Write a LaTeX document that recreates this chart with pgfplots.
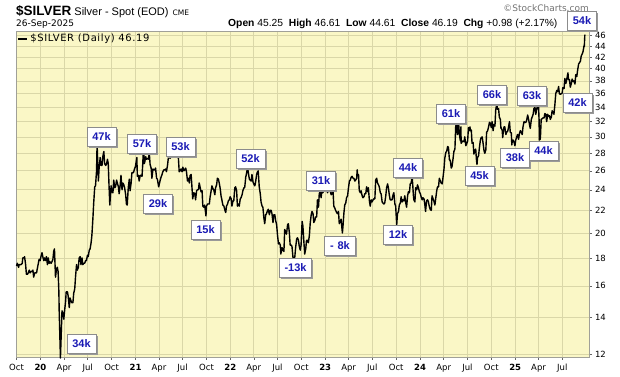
\documentclass[border=0pt]{standalone}
\usepackage{fontspec}
\setmainfont{DejaVu Sans}
\newfontfamily\arial{Liberation Sans}
\newfontfamily\legfont[LetterSpace=6]{DejaVu Sans}
\usepackage{pgfplots}
\pgfplotsset{compat=1.18}
\usepgfplotslibrary{dateplot}
\usetikzlibrary{shadows}
\definecolor{bg}{HTML}{FAF7C6}
\definecolor{gridc}{HTML}{DAD7A8}
\definecolor{lblue}{HTML}{1A1AB4}
\definecolor{framec}{HTML}{A0A098}
\tikzset{box/.style={draw=black!45, fill=white, line width=0.6pt, font=\arial\bfseries\fontsize{11}{12}\selectfont, text=lblue, minimum width=29pt, minimum height=19pt, inner sep=0pt, drop shadow={shadow xshift=1.6pt, shadow yshift=-1.6pt, fill=black!40, opacity=1}}}
\begin{document}
\begin{tikzpicture}
\useasboundingbox (0pt,0pt) rectangle (620pt,376pt);
\node[anchor=base west, inner sep=0pt] at (16pt,361pt) {{\arial\bfseries\fontsize{13.5}{14}\selectfont \$SILVER}\hspace{3pt}{\arial\fontsize{11}{12}\selectfont Silver - Spot (EOD)}\hspace{4pt}{\fontsize{7.5}{8}\selectfont CME}};
\node[anchor=base west, inner sep=0pt] at (16pt,350pt) {\fontsize{9}{10}\selectfont 26-Sep-2025};
\node[anchor=base west, inner sep=0pt] at (228pt,350pt) {\arial\fontsize{10.3}{12}\selectfont \textbf{Open} 45.25\ \ \textbf{High} 46.61\ \ \textbf{Low} 44.61\ \ \textbf{Close} 46.19\ \ \textbf{Chg} +0.98 (+2.17\%)};
\node[anchor=base east, inner sep=0pt, text=black!55] at (589pt,364pt) {\fontsize{9}{10}\selectfont \textcopyright StockCharts.com};
\begin{axis}[
  at={(16pt,19pt)}, anchor=south west,
  width=573pt, height=326pt, scale only axis,
  date coordinates in=x, date ZERO=2019-09-29,
  xmin=2019-09-29, xmax=2025-10-12,
  ymode=log, ymin=11.85, ymax=46.9,
  xtick={2019-10-01,2020-01-01,2020-04-01,2020-07-01,2020-10-01,2021-01-01,2021-04-01,2021-07-01,2021-10-01,2022-01-01,2022-04-01,2022-07-01,2022-10-01,2023-01-01,2023-04-01,2023-07-01,2023-10-01,2024-01-01,2024-04-01,2024-07-01,2024-10-01,2025-01-01,2025-04-01,2025-07-01},
  xticklabels={Oct,\textbf{20},Apr,Jul,Oct,\textbf{21},Apr,Jul,Oct,\textbf{22},Apr,Jul,Oct,\textbf{23},Apr,Jul,Oct,\textbf{24},Apr,Jul,Oct,\textbf{25},Apr,Jul},
  ytick={12,14,16,18,20,22,24,26,28,30,32,34,36,38,40,42,44,46},
  yticklabels={12,14,16,18,20,22,24,26,28,30,32,34,36,38,40,42,44,46},
  yticklabel pos=right, ytick pos=right, xtick pos=bottom,
  grid=major, major grid style={gridc, line width=0.6pt},
  axis background/.style={fill=bg},
  axis line style={framec, line width=0.6pt},
  tick style={black!60, line width=0.5pt},
  tick align=outside, major tick length=3pt,
  tick label style={font=\fontsize{8.5}{9}\selectfont},
  xticklabel style={yshift=-0.5pt},
  yticklabel style={xshift=-0.5pt},
  clip=false,
  legend style={at={(0.002,0.997)}, anchor=north west, draw=none, fill=none, inner sep=0pt, font=\legfont\fontsize{10}{11}\selectfont},
  legend image code/.code={\draw[line width=2pt] (0pt,0pt) -- (9pt,0pt);},
]
\addplot[black, line width=1.4pt, line join=round] coordinates {
(2019-10-01,17.4) (2019-10-04,17.6) (2019-10-09,17.3) (2019-10-11,17.5) (2019-10-16,17.5) (2019-10-18,17.5) (2019-10-23,17.6) (2019-10-25,18.0) (2019-10-30,18.0) (2019-11-01,18.1) (2019-11-05,17.5) (2019-11-08,16.8) (2019-11-12,16.8) (2019-11-15,16.9) (2019-11-19,17.1) (2019-11-22,16.9) (2019-11-26,17.0) (2019-11-29,17.0) (2019-12-03,17.1) (2019-12-06,16.6) (2019-12-10,16.9) (2019-12-13,16.9) (2019-12-17,16.9) (2019-12-20,17.2) (2019-12-24,17.6) (2019-12-27,17.9) (2019-12-31,17.8)
(2020-01-03,18.1) (2020-01-07,18.4) (2020-01-10,18.1) (2020-01-14,17.8) (2020-01-17,18.0) (2020-01-21,17.8) (2020-01-24,18.1) (2020-01-28,17.5) (2020-01-31,18.0) (2020-02-04,17.6) (2020-02-07,17.7) (2020-02-11,17.6) (2020-02-14,17.7) (2020-02-18,17.9) (2020-02-21,18.5) (2020-02-24,18.7) (2020-02-28,16.6) (2020-03-03,17.2) (2020-03-06,17.3) (2020-03-09,17.0) (2020-03-12,15.6) (2020-03-13,14.5) (2020-03-16,12.8) (2020-03-18,11.8) (2020-03-20,12.6) (2020-03-24,14.4) (2020-03-27,14.3) (2020-03-31,13.9) (2020-04-03,14.4) (2020-04-07,15.0) (2020-04-09,15.6) (2020-04-14,15.6) (2020-04-17,15.3) (2020-04-21,14.6) (2020-04-24,15.2) (2020-04-28,15.0) (2020-05-01,14.9) (2020-05-05,14.9) (2020-05-08,15.5) (2020-05-12,15.8) (2020-05-15,16.6) (2020-05-19,17.5) (2020-05-22,17.1) (2020-05-26,17.3) (2020-05-29,18.0) (2020-06-02,18.1) (2020-06-05,17.5) (2020-06-09,18.0) (2020-06-12,17.5) (2020-06-16,17.6) (2020-06-19,17.6) (2020-06-23,17.8) (2020-06-26,17.8) (2020-06-30,18.2) (2020-07-03,18.1) (2020-07-07,18.6) (2020-07-10,18.7) (2020-07-14,19.2) (2020-07-17,19.8) (2020-07-21,21.3) (2020-07-24,22.7) (2020-07-28,24.3) (2020-07-31,24.4) (2020-08-04,26.0) (2020-08-06,29.1) (2020-08-07,28.3) (2020-08-11,24.9) (2020-08-14,26.4) (2020-08-18,27.5) (2020-08-21,26.6) (2020-08-25,26.6) (2020-08-28,27.6) (2020-09-01,28.2) (2020-09-04,26.8) (2020-09-08,26.6) (2020-09-11,26.7) (2020-09-15,27.3) (2020-09-18,26.8) (2020-09-21,24.4) (2020-09-24,22.5) (2020-09-25,22.9) (2020-09-29,24.4) (2020-10-02,23.8) (2020-10-06,23.7) (2020-10-09,25.0) (2020-10-13,24.2) (2020-10-16,24.3) (2020-10-20,25.0) (2020-10-23,24.7) (2020-10-27,24.3) (2020-10-30,23.6) (2020-11-03,24.5) (2020-11-06,25.5) (2020-11-10,24.0) (2020-11-13,24.7) (2020-11-17,24.5) (2020-11-20,24.2) (2020-11-24,23.5) (2020-11-27,22.6) (2020-11-30,22.5) (2020-12-04,24.2) (2020-12-08,25.1) (2020-12-11,23.9) (2020-12-15,24.7) (2020-12-18,25.8) (2020-12-22,25.8) (2020-12-24,25.8) (2020-12-29,26.3) (2020-12-31,26.4)
(2021-01-05,27.3) (2021-01-06,27.5) (2021-01-08,25.4) (2021-01-12,25.5) (2021-01-15,24.9) (2021-01-19,25.5) (2021-01-22,25.5) (2021-01-26,25.4) (2021-01-29,26.9) (2021-02-01,29.0) (2021-02-03,26.8) (2021-02-05,26.9) (2021-02-09,27.6) (2021-02-12,27.3) (2021-02-16,27.4) (2021-02-19,27.3) (2021-02-23,28.0) (2021-02-26,26.7) (2021-03-02,26.3) (2021-03-05,25.2) (2021-03-09,26.2) (2021-03-12,26.1) (2021-03-16,26.1) (2021-03-19,26.3) (2021-03-23,25.2) (2021-03-26,25.1) (2021-03-31,24.3) (2021-04-06,25.0) (2021-04-09,25.3) (2021-04-13,25.6) (2021-04-16,25.9) (2021-04-20,26.1) (2021-04-23,26.1) (2021-04-27,26.2) (2021-04-30,25.9) (2021-05-04,26.6) (2021-05-07,27.4) (2021-05-11,27.8) (2021-05-14,27.4) (2021-05-18,28.2) (2021-05-21,27.5) (2021-05-25,27.9) (2021-05-28,28.0) (2021-06-01,28.0) (2021-06-04,27.6) (2021-06-08,28.0) (2021-06-11,28.0) (2021-06-15,27.4) (2021-06-18,25.9) (2021-06-22,26.0) (2021-06-25,26.2) (2021-06-29,25.9) (2021-07-02,26.4) (2021-07-06,26.0) (2021-07-09,26.1) (2021-07-13,26.3) (2021-07-16,25.9) (2021-07-20,24.9) (2021-07-23,25.2) (2021-07-27,24.7) (2021-07-30,25.5) (2021-08-03,25.6) (2021-08-06,24.3) (2021-08-09,23.1) (2021-08-13,23.7) (2021-08-17,23.6) (2021-08-20,23.0) (2021-08-24,23.9) (2021-08-27,24.0) (2021-08-31,24.0) (2021-09-03,24.7) (2021-09-07,24.2) (2021-09-10,23.8) (2021-09-14,23.9) (2021-09-17,22.4) (2021-09-21,22.3) (2021-09-24,22.5) (2021-09-29,21.5) (2021-10-01,22.4) (2021-10-05,22.6) (2021-10-08,22.6) (2021-10-12,22.6) (2021-10-15,23.3) (2021-10-19,23.9) (2021-10-22,24.4) (2021-10-26,24.1) (2021-10-29,24.0) (2021-11-02,23.5) (2021-11-05,24.2) (2021-11-09,24.5) (2021-11-12,25.2) (2021-11-16,25.1) (2021-11-19,24.7) (2021-11-23,24.1) (2021-11-26,23.4) (2021-11-30,22.9) (2021-12-03,22.5) (2021-12-07,22.4) (2021-12-10,22.1) (2021-12-14,21.8) (2021-12-17,22.4) (2021-12-21,22.6) (2021-12-24,22.9) (2021-12-28,23.0) (2021-12-31,23.3)
(2022-01-04,23.1) (2022-01-07,22.4) (2022-01-11,22.9) (2022-01-14,22.9) (2022-01-18,24.2) (2022-01-21,24.3) (2022-01-25,23.9) (2022-01-28,22.4) (2022-02-01,22.6) (2022-02-04,22.4) (2022-02-08,23.1) (2022-02-11,23.2) (2022-02-15,23.5) (2022-02-18,23.9) (2022-02-22,24.2) (2022-02-25,24.2) (2022-03-01,25.3) (2022-03-04,25.7) (2022-03-08,26.4) (2022-03-11,25.8) (2022-03-15,25.1) (2022-03-18,25.0) (2022-03-22,24.9) (2022-03-25,25.6) (2022-03-29,24.8) (2022-04-01,24.6) (2022-04-05,24.4) (2022-04-08,24.8) (2022-04-12,25.6) (2022-04-14,25.8) (2022-04-18,26.0) (2022-04-22,24.3) (2022-04-26,23.6) (2022-04-29,22.8) (2022-05-03,22.4) (2022-05-06,22.3) (2022-05-10,21.3) (2022-05-13,20.8) (2022-05-17,21.6) (2022-05-20,21.7) (2022-05-24,22.0) (2022-05-27,22.1) (2022-05-31,21.6) (2022-06-03,22.0) (2022-06-07,22.0) (2022-06-10,21.7) (2022-06-14,20.9) (2022-06-17,21.6) (2022-06-21,21.6) (2022-06-24,21.1) (2022-06-28,20.7) (2022-07-01,19.9) (2022-07-05,19.1) (2022-07-08,19.2) (2022-07-12,19.0) (2022-07-14,18.3) (2022-07-19,18.8) (2022-07-22,18.6) (2022-07-26,18.5) (2022-07-29,20.3) (2022-08-02,20.1) (2022-08-05,19.9) (2022-08-09,20.7) (2022-08-12,20.8) (2022-08-16,20.0) (2022-08-19,19.0) (2022-08-23,19.0) (2022-08-26,18.9) (2022-08-30,18.0) (2022-09-01,17.8) (2022-09-06,18.1) (2022-09-09,18.8) (2022-09-13,19.5) (2022-09-16,19.6) (2022-09-20,19.4) (2022-09-23,18.9) (2022-09-27,18.6) (2022-09-30,19.0) (2022-10-04,21.0) (2022-10-07,20.6) (2022-10-11,19.2) (2022-10-14,18.3) (2022-10-18,18.7) (2022-10-21,19.4) (2022-10-25,19.4) (2022-10-28,19.2) (2022-11-01,19.8) (2022-11-04,20.8) (2022-11-08,21.6) (2022-11-11,21.9) (2022-11-15,21.7) (2022-11-18,20.9) (2022-11-22,21.1) (2022-11-25,21.4) (2022-11-29,21.4) (2022-12-02,23.0) (2022-12-06,22.3) (2022-12-09,23.6) (2022-12-13,23.9) (2022-12-16,23.2) (2022-12-20,24.1) (2022-12-23,23.7) (2022-12-27,24.1) (2022-12-30,24.0)
(2023-01-03,24.2) (2023-01-06,24.0) (2023-01-10,23.7) (2023-01-13,24.3) (2023-01-17,24.0) (2023-01-20,23.9) (2023-01-24,23.5) (2023-01-27,23.6) (2023-01-31,23.9) (2023-02-03,22.4) (2023-02-07,22.2) (2023-02-10,22.0) (2023-02-14,21.8) (2023-02-17,21.7) (2023-02-21,21.9) (2023-02-24,20.8) (2023-02-28,21.0) (2023-03-03,21.2) (2023-03-08,20.0) (2023-03-10,20.5) (2023-03-14,21.8) (2023-03-17,22.5) (2023-03-21,22.7) (2023-03-24,23.2) (2023-03-28,23.4) (2023-03-31,24.1) (2023-04-04,24.9) (2023-04-07,25.0) (2023-04-11,25.3) (2023-04-14,25.4) (2023-04-18,25.2) (2023-04-21,25.2) (2023-04-25,24.9) (2023-04-28,25.0) (2023-05-02,25.2) (2023-05-04,26.1) (2023-05-05,25.6) (2023-05-09,25.6) (2023-05-12,23.9) (2023-05-16,23.7) (2023-05-19,23.9) (2023-05-23,23.4) (2023-05-26,23.2) (2023-05-30,23.3) (2023-06-02,23.6) (2023-06-06,23.6) (2023-06-09,24.3) (2023-06-13,23.8) (2023-06-16,24.2) (2023-06-20,22.9) (2023-06-23,22.4) (2023-06-27,23.0) (2023-06-30,22.8) (2023-07-04,23.0) (2023-07-07,23.1) (2023-07-11,23.1) (2023-07-14,25.0) (2023-07-18,25.2) (2023-07-21,24.7) (2023-07-25,24.5) (2023-07-28,24.3) (2023-08-01,23.7) (2023-08-04,23.6) (2023-08-08,22.8) (2023-08-11,22.7) (2023-08-15,22.6) (2023-08-18,22.7) (2023-08-22,23.4) (2023-08-25,24.2) (2023-08-29,24.6) (2023-09-01,24.2) (2023-09-05,23.4) (2023-09-08,23.0) (2023-09-12,23.0) (2023-09-15,23.0) (2023-09-19,23.5) (2023-09-22,23.7) (2023-09-26,22.6) (2023-09-29,22.4) (2023-10-03,20.7) (2023-10-06,21.7) (2023-10-10,21.9) (2023-10-13,22.5) (2023-10-17,22.7) (2023-10-20,23.3) (2023-10-24,22.8) (2023-10-27,23.0) (2023-10-31,22.9) (2023-11-03,23.4) (2023-11-07,22.7) (2023-11-10,22.3) (2023-11-14,23.4) (2023-11-17,23.8) (2023-11-21,23.7) (2023-11-24,24.6) (2023-11-28,24.7) (2023-12-01,25.5) (2023-12-04,24.4) (2023-12-06,23.5) (2023-12-08,23.0) (2023-12-12,22.8) (2023-12-15,24.2) (2023-12-19,24.0) (2023-12-22,24.5) (2023-12-26,24.2) (2023-12-29,23.8)
(2024-01-02,23.6) (2024-01-05,23.3) (2024-01-09,23.0) (2024-01-12,23.2) (2024-01-16,23.1) (2024-01-19,22.6) (2024-01-22,21.9) (2024-01-26,22.9) (2024-01-30,23.0) (2024-02-02,22.8) (2024-02-06,22.3) (2024-02-09,22.1) (2024-02-13,22.0) (2024-02-16,23.4) (2024-02-20,23.1) (2024-02-23,22.9) (2024-02-27,22.5) (2024-03-01,23.1) (2024-03-05,23.9) (2024-03-08,24.3) (2024-03-12,24.3) (2024-03-15,25.2) (2024-03-19,24.9) (2024-03-22,24.7) (2024-03-26,24.6) (2024-03-28,25.0) (2024-04-02,26.2) (2024-04-05,27.4) (2024-04-09,28.1) (2024-04-12,28.2) (2024-04-16,28.8) (2024-04-19,28.7) (2024-04-23,27.2) (2024-04-26,27.2) (2024-04-30,26.3) (2024-05-03,26.5) (2024-05-07,27.4) (2024-05-10,28.2) (2024-05-14,28.5) (2024-05-17,31.3) (2024-05-20,31.9) (2024-05-23,30.4) (2024-05-24,30.3) (2024-05-28,31.9) (2024-05-31,30.4) (2024-06-04,29.5) (2024-06-06,31.3) (2024-06-07,29.2) (2024-06-11,29.4) (2024-06-14,29.5) (2024-06-18,29.4) (2024-06-21,30.0) (2024-06-25,28.9) (2024-06-28,29.1) (2024-07-02,29.5) (2024-07-05,31.2) (2024-07-09,30.8) (2024-07-11,31.3) (2024-07-12,30.8) (2024-07-16,30.9) (2024-07-19,29.2) (2024-07-23,29.3) (2024-07-26,27.9) (2024-07-30,28.3) (2024-08-02,28.5) (2024-08-05,27.2) (2024-08-07,26.7) (2024-08-09,27.5) (2024-08-13,27.7) (2024-08-16,28.6) (2024-08-20,29.6) (2024-08-23,29.9) (2024-08-27,30.0) (2024-08-30,29.3) (2024-09-03,28.3) (2024-09-06,28.0) (2024-09-10,28.4) (2024-09-13,30.6) (2024-09-17,30.8) (2024-09-20,31.2) (2024-09-24,31.9) (2024-09-27,31.8) (2024-10-01,31.2) (2024-10-04,32.0) (2024-10-08,30.8) (2024-10-11,31.6) (2024-10-15,31.4) (2024-10-18,33.6) (2024-10-22,34.5) (2024-10-25,33.7) (2024-10-29,33.8) (2024-11-01,32.6) (2024-11-05,32.3) (2024-11-07,31.1) (2024-11-08,31.2) (2024-11-12,30.8) (2024-11-14,29.9) (2024-11-15,30.3) (2024-11-19,31.3) (2024-11-22,31.3) (2024-11-26,30.3) (2024-11-29,30.6) (2024-12-03,30.7) (2024-12-06,31.2) (2024-12-10,32.0) (2024-12-13,30.6) (2024-12-17,30.5) (2024-12-19,29.0) (2024-12-20,29.3) (2024-12-24,29.6) (2024-12-27,29.4) (2024-12-31,28.9)
(2025-01-03,29.6) (2025-01-07,30.0) (2025-01-10,30.3) (2025-01-14,29.7) (2025-01-17,30.4) (2025-01-21,30.8) (2025-01-24,30.6) (2025-01-28,30.3) (2025-01-31,31.3) (2025-02-04,32.0) (2025-02-07,31.9) (2025-02-11,31.9) (2025-02-14,32.2) (2025-02-18,32.9) (2025-02-21,32.4) (2025-02-25,31.6) (2025-02-28,31.1) (2025-03-04,32.3) (2025-03-07,32.6) (2025-03-11,33.0) (2025-03-14,33.8) (2025-03-18,34.0) (2025-03-21,33.0) (2025-03-25,33.7) (2025-03-28,34.5) (2025-04-01,34.0) (2025-04-03,32.1) (2025-04-04,29.6) (2025-04-07,29.7) (2025-04-08,29.9) (2025-04-11,32.3) (2025-04-15,32.4) (2025-04-18,32.5) (2025-04-22,32.5) (2025-04-25,33.1) (2025-04-29,33.0) (2025-05-02,32.0) (2025-05-06,33.0) (2025-05-09,32.7) (2025-05-13,32.8) (2025-05-16,32.3) (2025-05-20,32.6) (2025-05-23,33.5) (2025-05-27,33.3) (2025-05-30,33.0) (2025-06-03,34.5) (2025-06-06,36.0) (2025-06-10,36.5) (2025-06-13,36.3) (2025-06-17,37.1) (2025-06-20,36.0) (2025-06-24,35.9) (2025-06-27,36.0) (2025-07-01,36.1) (2025-07-03,36.9) (2025-07-08,36.8) (2025-07-11,38.4) (2025-07-15,37.6) (2025-07-18,38.2) (2025-07-23,39.3) (2025-07-25,38.2) (2025-07-29,38.2) (2025-08-01,37.0) (2025-08-05,37.6) (2025-08-08,38.3) (2025-08-12,37.9) (2025-08-15,38.0) (2025-08-19,37.5) (2025-08-22,39.0) (2025-08-26,38.7) (2025-08-29,39.7) (2025-09-02,40.8) (2025-09-05,41.0) (2025-09-09,41.3) (2025-09-12,42.2) (2025-09-16,42.6) (2025-09-19,43.0) (2025-09-23,44.1) (2025-09-24,43.9) (2025-09-25,45.2) (2025-09-26,46.19)
};
\addlegendentry{\$SILVER (Daily) 46.19}
\node[box] at (rel axis cs:0.1143,0.0399) {34k};
\node[box] at (rel axis cs:0.1492,0.6764) {47k};
\node[box] at (rel axis cs:0.2199,0.6534) {57k};
\node[box] at (rel axis cs:0.2871,0.6442) {53k};
\node[box] at (rel axis cs:0.2478,0.4693) {29k};
\node[box] at (rel axis cs:0.3307,0.3911) {15k};
\node[box] at (rel axis cs:0.4092,0.6074) {52k};
\node[box, minimum width=32pt] at (rel axis cs:0.4878,0.2730) {-13k};
\node[box] at (rel axis cs:0.5323,0.5399) {31k};
\node[box, minimum width=31pt] at (rel axis cs:0.5654,0.3405) {-\,\,8k};
\node[box] at (rel axis cs:0.6667,0.3758) {12k};
\node[box] at (rel axis cs:0.6841,0.5813) {44k};
\node[box] at (rel axis cs:0.7592,0.7454) {61k};
\node[box] at (rel axis cs:0.8089,0.5552) {45k};
\node[box] at (rel axis cs:0.8307,0.8037) {66k};
\node[box] at (rel axis cs:0.8709,0.6120) {38k};
\node[box] at (rel axis cs:0.9005,0.8006) {63k};
\node[box] at (rel axis cs:0.9206,0.6319) {44k};
\node[box] at (rel axis cs:0.9799,0.7807) {42k};
\node[box] at (rel axis cs:0.9878,1.0307) {54k};
\end{axis}
\end{tikzpicture}
\end{document}
